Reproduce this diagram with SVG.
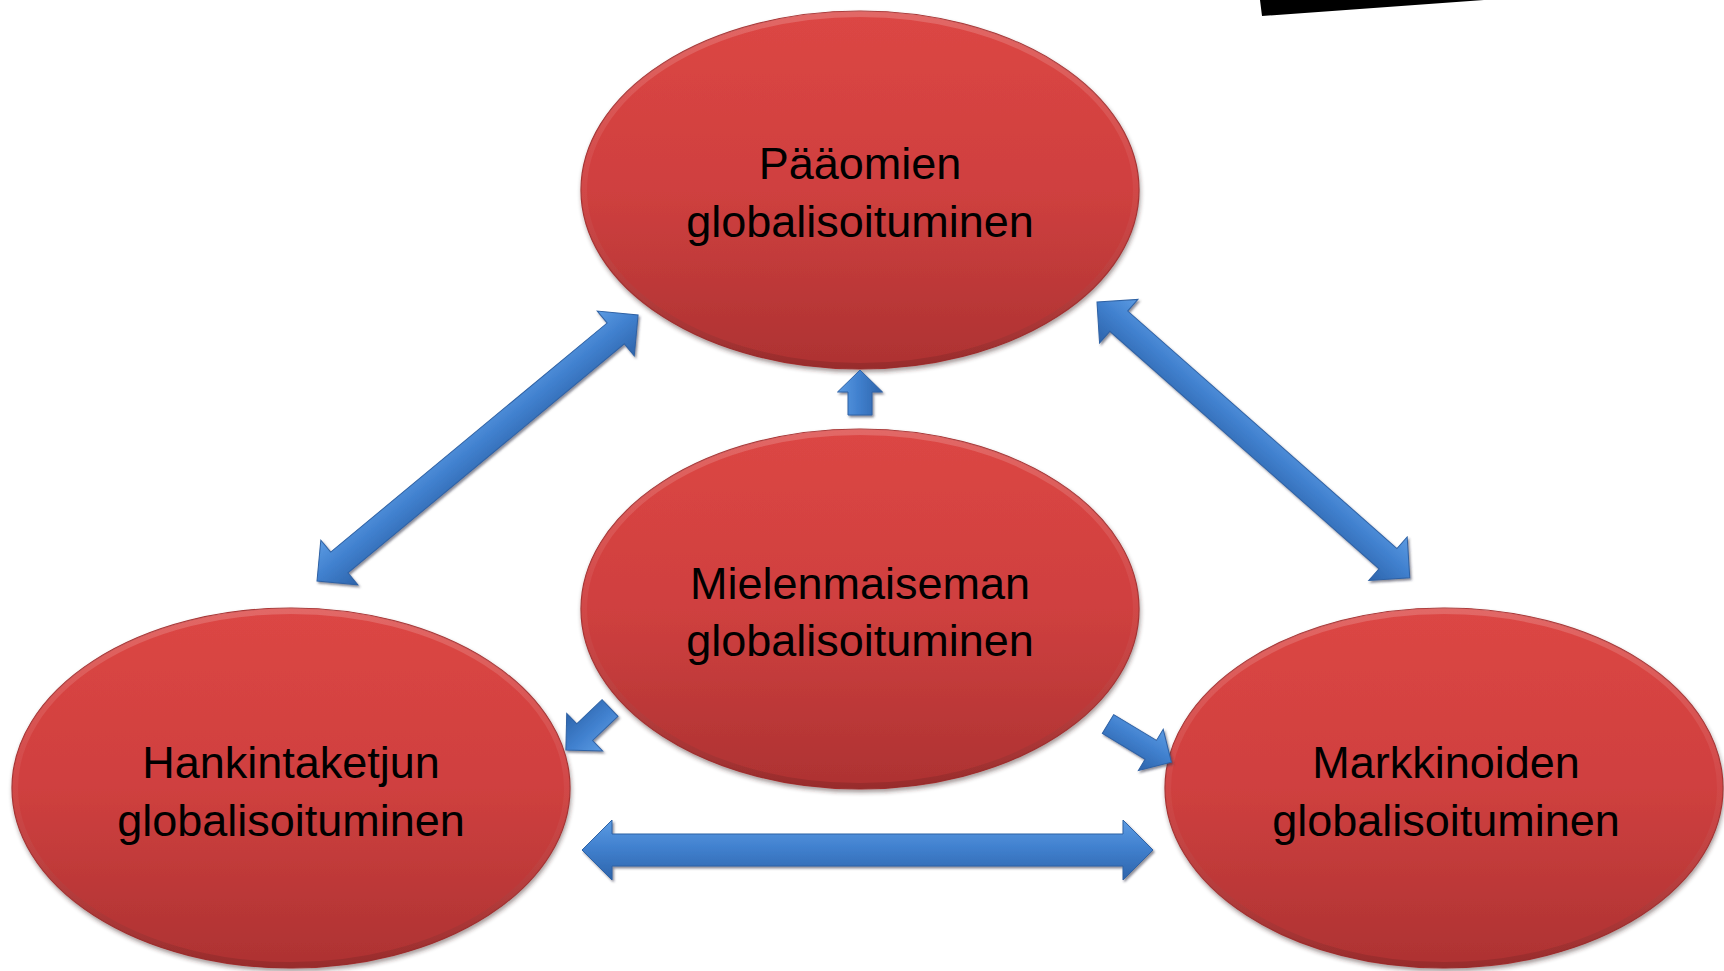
<svg xmlns="http://www.w3.org/2000/svg" width="1724" height="971" viewBox="0 0 1724 971">
  <defs>
    <linearGradient id="redFill" x1="0" y1="0" x2="0" y2="1">
      <stop offset="0" stop-color="#dc4644"/>
      <stop offset="0.5" stop-color="#cf403f"/>
      <stop offset="1" stop-color="#ad3232"/>
    </linearGradient>
    <linearGradient id="rim" x1="0" y1="0" x2="0" y2="1">
      <stop offset="0" stop-color="#ffffff" stop-opacity="0.18"/>
      <stop offset="0.5" stop-color="#ffffff" stop-opacity="0.04"/>
      <stop offset="1" stop-color="#000000" stop-opacity="0.12"/>
    </linearGradient>
    <linearGradient id="blueFill" x1="0" y1="0" x2="0" y2="1">
      <stop offset="0" stop-color="#5c9be2"/>
      <stop offset="0.45" stop-color="#4181cf"/>
      <stop offset="1" stop-color="#2d64ab"/>
    </linearGradient>
    <filter id="shadow" x="-10%" y="-10%" width="120%" height="125%">
      <feDropShadow dx="1" dy="3" stdDeviation="2" flood-color="#3a2020" flood-opacity="0.45"/>
    </filter>
    <filter id="ashadow" x="-20%" y="-20%" width="140%" height="140%">
      <feDropShadow dx="1.5" dy="2" stdDeviation="1.2" flood-color="#333344" flood-opacity="0.55"/>
    </filter>
  </defs>
  <style>
    .node { fill: url(#redFill); stroke: #a52f2f; stroke-width: 1.2; }
    .rim { fill: none; stroke: url(#rim); stroke-width: 6; }
    .label { font-family: "Liberation Sans", Arial, sans-serif; font-size: 45px; fill: #000; text-anchor: middle; }
    .arrow { fill: url(#blueFill); stroke: #2f62a5; stroke-width: 1; stroke-linejoin: miter; }
  </style>

  <rect width="1724" height="971" fill="#ffffff"/>

  <polygon points="1260,0 1484,0 1262,16" fill="#000000"/>

  <g id="node-paaomien">
    <g filter="url(#shadow)"><ellipse class="node" cx="860" cy="190" rx="279" ry="179"/></g>
    <ellipse class="rim" cx="860" cy="190" rx="276" ry="176"/>
    <text class="label" x="860" y="179">Pääomien</text>
    <text class="label" x="860" y="237">globalisoituminen</text>
  </g>

  <g id="node-mielenmaiseman">
    <g filter="url(#shadow)"><ellipse class="node" cx="860" cy="609" rx="279" ry="180"/></g>
    <ellipse class="rim" cx="860" cy="609" rx="276" ry="177"/>
    <text class="label" x="860" y="599">Mielenmaiseman</text>
    <text class="label" x="860" y="656">globalisoituminen</text>
  </g>

  <g id="node-hankintaketjun">
    <g filter="url(#shadow)"><ellipse class="node" cx="291" cy="788" rx="279" ry="180"/></g>
    <ellipse class="rim" cx="291" cy="788" rx="276" ry="177"/>
    <text class="label" x="291" y="778">Hankintaketjun</text>
    <text class="label" x="291" y="836">globalisoituminen</text>
  </g>

  <g id="node-markkinoiden">
    <g filter="url(#shadow)"><ellipse class="node" cx="1444" cy="788" rx="279" ry="180"/></g>
    <ellipse class="rim" cx="1444" cy="788" rx="276" ry="177"/>
    <text class="label" x="1446" y="778">Markkinoiden</text>
    <text class="label" x="1446" y="836">globalisoituminen</text>
  </g>

  <g id="connectors">
    <!-- Hankintaketjun <-> Pääomien -->
    <g filter="url(#ashadow)">
      <path class="arrow" transform="translate(317,581) rotate(-39.65)" d="M0,0 L29,-29 L29,-13.5 L388,-13.5 L388,-29 L417,0 L388,29 L388,13.5 L29,13.5 L29,29 Z"/>
    </g>
    <!-- Pääomien <-> Markkinoiden -->
    <g filter="url(#ashadow)">
      <path class="arrow" transform="translate(1097,302) rotate(41.41)" d="M0,0 L29,-29 L29,-13.5 L388,-13.5 L388,-29 L417,0 L388,29 L388,13.5 L29,13.5 L29,29 Z"/>
    </g>
    <!-- Hankintaketjun <-> Markkinoiden -->
    <g filter="url(#ashadow)">
      <path class="arrow" transform="translate(582,850)" d="M0,0 L30,-30 L30,-16 L541,-16 L541,-30 L571,0 L541,30 L541,16 L30,16 L30,30 Z"/>
    </g>
    <!-- Mielenmaiseman -> Pääomien -->
    <g filter="url(#ashadow)">
      <path class="arrow" transform="translate(860,415) rotate(-90)" d="M0,-12 L23,-12 L23,-22.5 L45,0 L23,22.5 L23,12 L0,12 Z"/>
    </g>
    <!-- Mielenmaiseman -> Hankintaketjun -->
    <g filter="url(#ashadow)">
      <path class="arrow" transform="translate(610,708) rotate(136.33)" d="M0,-11.5 L35,-11.5 L35,-26 L61,0 L35,26 L35,11.5 L0,11.5 Z"/>
    </g>
    <!-- Mielenmaiseman -> Markkinoiden -->
    <g filter="url(#ashadow)">
      <path class="arrow" transform="translate(1108,724) rotate(31.1)" d="M0,-11 L50,-11 L50,-24 L74,0 L50,24 L50,11 L0,11 Z"/>
    </g>
  </g>
</svg>
